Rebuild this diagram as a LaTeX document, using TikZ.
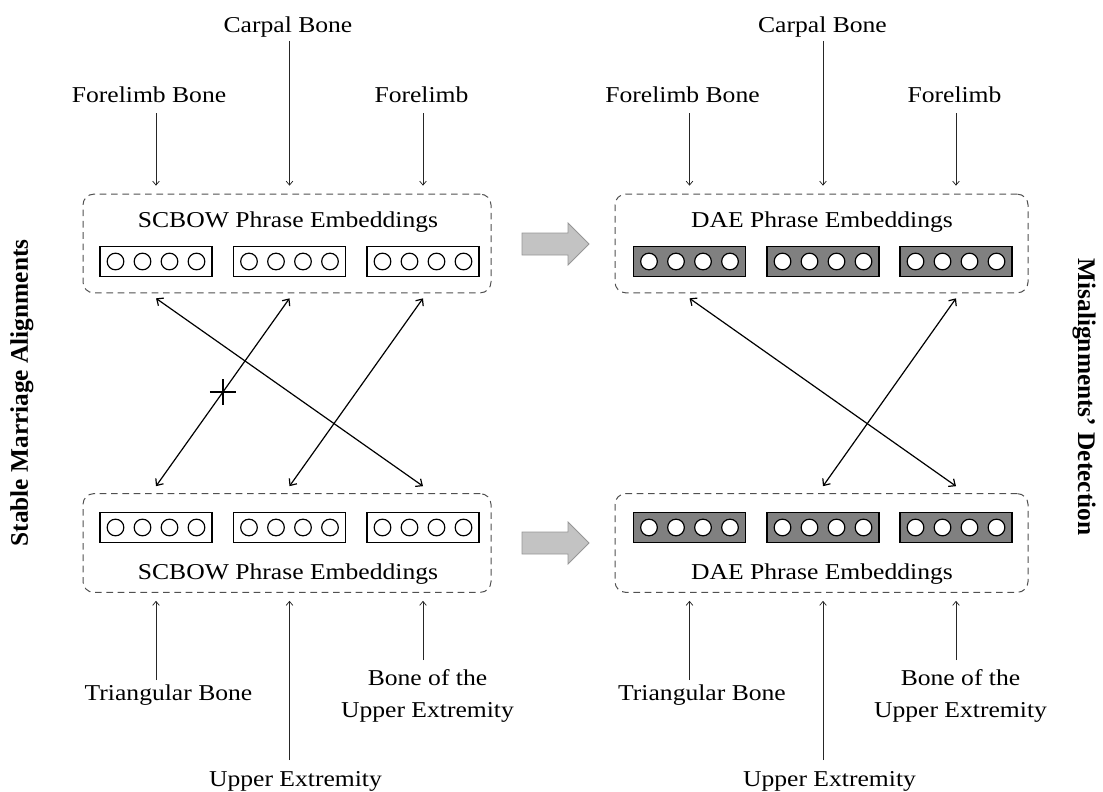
\documentclass[tikz,border=0pt]{standalone}
\usepackage{fontspec}
\setmainfont[FakeStretch=1.13]{Liberation Serif}
\newfontfamily\sidefont{Liberation Serif}
\usetikzlibrary{arrows.meta,calc}
\definecolor{boxgray}{RGB}{80,80,80}
\definecolor{vecgray}{RGB}{128,128,128}
\definecolor{arrfill}{RGB}{195,195,195}
\definecolor{arrdraw}{RGB}{150,150,150}
\tikzset{
  lbl/.style={font=\fontsize{17}{24}\selectfont, inner sep=0pt, align=center},
  groupbox/.style={draw=boxgray, line width=0.75pt, dash pattern=on 5pt off 3.5pt,
    rounded corners=8pt, minimum height=74pt, inner sep=0pt},
  vecbox/.style={draw=black, line width=1.4pt, minimum width=84pt, minimum height=22.5pt, inner sep=0pt},
  vecwhite/.style={vecbox, fill=white},
  vecdark/.style={vecbox, fill=vecgray},
  unit/.style={circle, draw=black, fill=white, line width=0.9pt, minimum size=12.5pt, inner sep=0pt},
  inarr/.style={draw=black!85, line width=0.55pt, -{Straight Barb[length=3pt,width=5pt]}},
  cross/.style={draw=black, line width=0.9pt, {Straight Barb[length=4pt,width=7pt]}-{Straight Barb[length=4pt,width=7pt]}},
  bigarrow/.style={fill=arrfill, draw=arrdraw, line width=0.6pt, line join=miter},
  side/.style={font=\sidefont\bfseries\fontsize{19}{23}\selectfont, inner sep=0pt}
}
\begin{document}
\begin{tikzpicture}[x=0.75pt,y=-0.75pt]
\useasboundingbox (0,0) rectangle (1103,792);

% group boxes
\node[groupbox, minimum width=306pt] (TLbox) at (287,243.5) {};
\node[groupbox, minimum width=309.75pt] (TRbox) at (821.5,243.5) {};
\node[groupbox, minimum width=306pt] (BLbox) at (287,543) {};
\node[groupbox, minimum width=309.75pt] (BRbox) at (821.5,543) {};

% titles
\node[lbl] (TLtitle) at (288,222) {SCBOW Phrase Embeddings};
\node[lbl] (TRtitle) at (822,222) {DAE Phrase Embeddings};
\node[lbl] (BLtitle) at (288,574) {SCBOW Phrase Embeddings};
\node[lbl] (BRtitle) at (822,574) {DAE Phrase Embeddings};

% vectors
\foreach \n/\x/\y/\s in {TL1/156/261.5/vecwhite, TL2/289.5/261.5/vecwhite, TL3/423/261.5/vecwhite,
                         BL1/156/527.5/vecwhite, BL2/289.5/527.5/vecwhite, BL3/423/527.5/vecwhite,
                         TR1/689.5/261.5/vecdark, TR2/823/261.5/vecdark, TR3/956/261.5/vecdark,
                         BR1/689.5/527.5/vecdark, BR2/823/527.5/vecdark, BR3/956/527.5/vecdark}{
  \node[\s] (\n) at (\x,\y) {};
  \foreach \k/\dx in {1/-40.5,2/-13.5,3/13.5,4/40.5}{
    \node[unit] (\n c\k) at ($(\n)+(\dx,0)$) {};
  }
}

% big gray arrows
\coordinate (garrTop) at (522,244);
\coordinate (garrBot) at (522,543);
\foreach \g in {garrTop,garrBot}{
  \draw[bigarrow] ($(\g)+(0,-11)$) -- ++(46,0) -- ++(0,-10) -- ++(21,21) -- ++(-21,21)
    -- ++(0,-10) -- ++(-46,0) -- cycle;
}

% top labels
\node[lbl, anchor=base] (tlA) at (149,103) {Forelimb Bone};
\node[lbl, anchor=base] (tlB) at (288,33) {Carpal Bone};
\node[lbl, anchor=base] (tlC) at (421.5,103) {Forelimb};
\node[lbl, anchor=base] (trA) at (682.5,103) {Forelimb Bone};
\node[lbl, anchor=base] (trB) at (822.5,33) {Carpal Bone};
\node[lbl, anchor=base] (trC) at (954.5,103) {Forelimb};

\draw[inarr] ($(tlA.base -| TL1)+(0,10)$) -- ($(TLbox.north -| TL1)+(0,-8)$);
\draw[inarr] ($(tlB.base -| TL2)+(0,8)$) -- ($(TLbox.north -| TL2)+(0,-8)$);
\draw[inarr] ($(tlC.base -| TL3)+(0,10)$) -- ($(TLbox.north -| TL3)+(0,-8)$);
\draw[inarr] ($(trA.base -| TR1)+(0,10)$) -- ($(TRbox.north -| TR1)+(0,-8)$);
\draw[inarr] ($(trB.base -| TR2)+(0,8)$) -- ($(TRbox.north -| TR2)+(0,-8)$);
\draw[inarr] ($(trC.base -| TR3)+(0,10)$) -- ($(TRbox.north -| TR3)+(0,-8)$);

% bottom labels
\node[lbl, anchor=base] (blA) at (168.5,700) {Triangular Bone};
\node[lbl, anchor=base] (blB) at (295.5,786) {Upper Extremity};
\node[lbl, anchor=north] (blC) at (427.5,669) {Bone of the\\Upper Extremity};
\node[lbl, anchor=base] (brA) at (702,700) {Triangular Bone};
\node[lbl, anchor=base] (brB) at (829.5,786) {Upper Extremity};
\node[lbl, anchor=north] (brC) at (960.5,669) {Bone of the\\Upper Extremity};

\draw[inarr] ($(blA.base -| BL1)+(0,-20)$) -- ($(BLbox.south -| BL1)+(0,8)$);
\draw[inarr] ($(blB.base -| BL2)+(0,-26)$) -- ($(BLbox.south -| BL2)+(0,8)$);
\draw[inarr] ($(blC.north -| BL3)+(0,-9)$) -- ($(BLbox.south -| BL3)+(0,8)$);
\draw[inarr] ($(brA.base -| BR1)+(0,-20)$) -- ($(BRbox.south -| BR1)+(0,8)$);
\draw[inarr] ($(brB.base -| BR2)+(0,-26)$) -- ($(BRbox.south -| BR2)+(0,8)$);
\draw[inarr] ($(brC.north -| BR3)+(0,-9)$) -- ($(BRbox.south -| BR3)+(0,8)$);

% alignment arrows (left)
\draw[cross] ($(TLbox.south -| TL1)+(0,5)$) -- ($(BLbox.north -| BL3)+(0,-7)$);
\draw[cross] ($(TLbox.south -| TL2)+(0,5)$) -- node[pos=0.5, inner sep=0pt] (xmark) {} ($(BLbox.north -| BL1)+(0,-7)$);
\draw[cross] ($(TLbox.south -| TL3)+(0,5)$) -- ($(BLbox.north -| BL2)+(0,-7)$);
\draw[line width=1.5pt] ($(xmark)+(-13,0)$) -- ($(xmark)+(13,0)$);
\draw[line width=1.5pt] ($(xmark)+(0,-13)$) -- ($(xmark)+(0,13)$);

% alignment arrows (right)
\draw[cross] ($(TRbox.south -| TR1)+(0,5)$) -- ($(BRbox.north -| BR3)+(0,-7)$);
\draw[cross] ($(TRbox.south -| TR3)+(0,5)$) -- ($(BRbox.north -| BR2)+(0,-7)$);

% side labels
\node[side, rotate=90] (sideL) at (22,393) {Stable Marriage Alignments};
\node[side, rotate=-90] (sideR) at (1084,397) {Misalignments’ Detection};
\end{tikzpicture}
\end{document}
